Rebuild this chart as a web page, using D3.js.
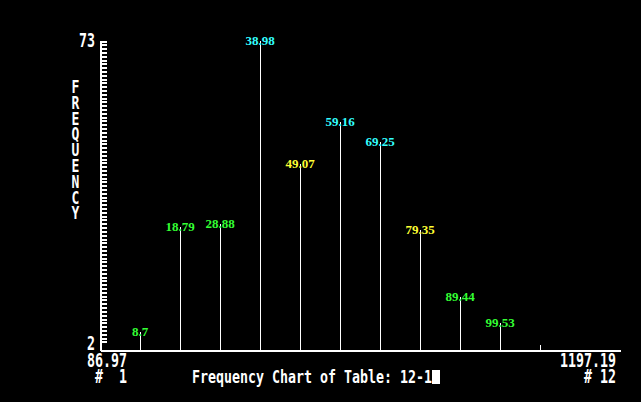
<!DOCTYPE html>
<html><head><meta charset="utf-8">
<script src="https://cdn.jsdelivr.net/npm/d3@7/dist/d3.min.js"></script>
<style>
html,body{margin:0;padding:0;background:#000;}
svg{display:block;}
</style></head>
<body>
<script>
// ---- data ----
const classLabels = ["8.7","18.79","28.88","38.98","49.07","59.16","69.25","79.35","89.44","99.53",""];
const frequencies = [6.1, 30.3, 31.0, 73, 44.7, 54.4, 49.8, 29.6, 14.2, 8.2, 3.1];
const labelColors = ["green","green","green","cyan","yellow","cyan","cyan","yellow","green","green","green"];
const yMin = 2, yMax = 73;
const xMinLabel = "86.97", xMaxLabel = "1197.19";
const xMinIndex = "#  1", xMaxIndex = "# 12";
const yTitle = "FREQUENCY";
const chartTitle = "Frequency Chart of Table: 12-1";

const palette = {green:"#33ff33", cyan:"#33ffff", yellow:"#ffff33"};

const W = 641, H = 402;
const svg = d3.select("body").append("svg").attr("width", W).attr("height", H)
  .style("background", "#000");

const x = d3.scaleLinear().domain([0, frequencies.length + 2]).range([100, 620]);
const y = d3.scaleLinear().domain([yMin, yMax]).range([350, 41]);

const mono = "'DejaVu Sans Mono', monospace";

// y axis
const tickVals = d3.range(yMax, yMin + 1, -(yMax - yMin) / 81.14);
const yAxis = d3.axisRight(y).tickValues(tickVals).tickSize(6).tickSizeOuter(0).tickFormat("");
const gy = svg.append("g").attr("transform", "translate(101,0)").call(yAxis);
gy.select(".domain").attr("stroke", "#fff").attr("stroke-width", 2).attr("d", `M0,${y(yMax)}V${y(yMin)+1}`);
gy.selectAll(".tick line").attr("stroke", "#fff").attr("stroke-width", 2).attr("shape-rendering", "crispEdges");

// x axis
const xAxis = d3.axisBottom(x).tickValues([]).tickSizeOuter(0);
const gx = svg.append("g").attr("transform", "translate(0,350)").call(xAxis);
gx.select(".domain").attr("stroke", "#fff").attr("stroke-width", 2).attr("shape-rendering", "crispEdges");

// bars (spikes)
svg.append("g").selectAll("line").data(frequencies).join("line")
  .attr("x1", (d, i) => Math.round(x(i + 1)) + 0.5)
  .attr("x2", (d, i) => Math.round(x(i + 1)) + 0.5)
  .attr("y1", y(yMin))
  .attr("y2", d => y(d))
  .attr("stroke", "#fff").attr("stroke-width", 1).attr("shape-rendering", "crispEdges");

// value labels
svg.append("g").selectAll("text").data(frequencies).join("text")
  .attr("x", (d, i) => x(i + 1))
  .attr("y", d => y(d) + 4)
  .attr("text-anchor", "middle")
  .attr("font-family", "'Liberation Serif', serif")
  .attr("font-weight", "bold")
  .attr("font-size", 13)
  .attr("fill", (d, i) => palette[labelColors[i]])
  .text((d, i) => classLabels[i]);

// DOS-style text helper
function dosText(str, tx, ty, anchor, sy) {
  svg.append("text")
    .attr("transform", `translate(${tx},${ty}) scale(1,${sy})`)
    .attr("text-anchor", anchor)
    .attr("font-family", mono)
    .attr("font-weight", "bold")
    .attr("font-size", 13.3)
    .attr("fill", "#fff")
    .attr("xml:space", "preserve")
    .style("white-space", "pre")
    .text(str);
}

dosText(String(yMax), 95, 47, "end", 1.45);
dosText(String(yMin), 95, 350, "end", 1.4);
dosText(xMinLabel, 127, 367, "end", 1.45);
dosText(xMinIndex, 127, 383, "end", 1.45);
dosText(xMaxLabel, 616, 367, "end", 1.45);
dosText(xMaxIndex, 616, 383, "end", 1.45);
dosText(chartTitle, 192, 383, "start", 1.3);

// cursor block
svg.append("rect").attr("x", 432).attr("y", 370).attr("width", 8).attr("height", 14).attr("fill", "#fff");

// vertical y title
svg.append("g").selectAll("text").data(yTitle.split("")).join("text")
  .attr("transform", (d, i) => `translate(75.5,${93 + i * 15.8}) scale(1,1.3)`)
  .attr("text-anchor", "middle")
  .attr("font-family", mono)
  .attr("font-weight", "bold")
  .attr("font-size", 13)
  .attr("fill", "#fff")
  .text(d => d);
</script>
</body></html>
